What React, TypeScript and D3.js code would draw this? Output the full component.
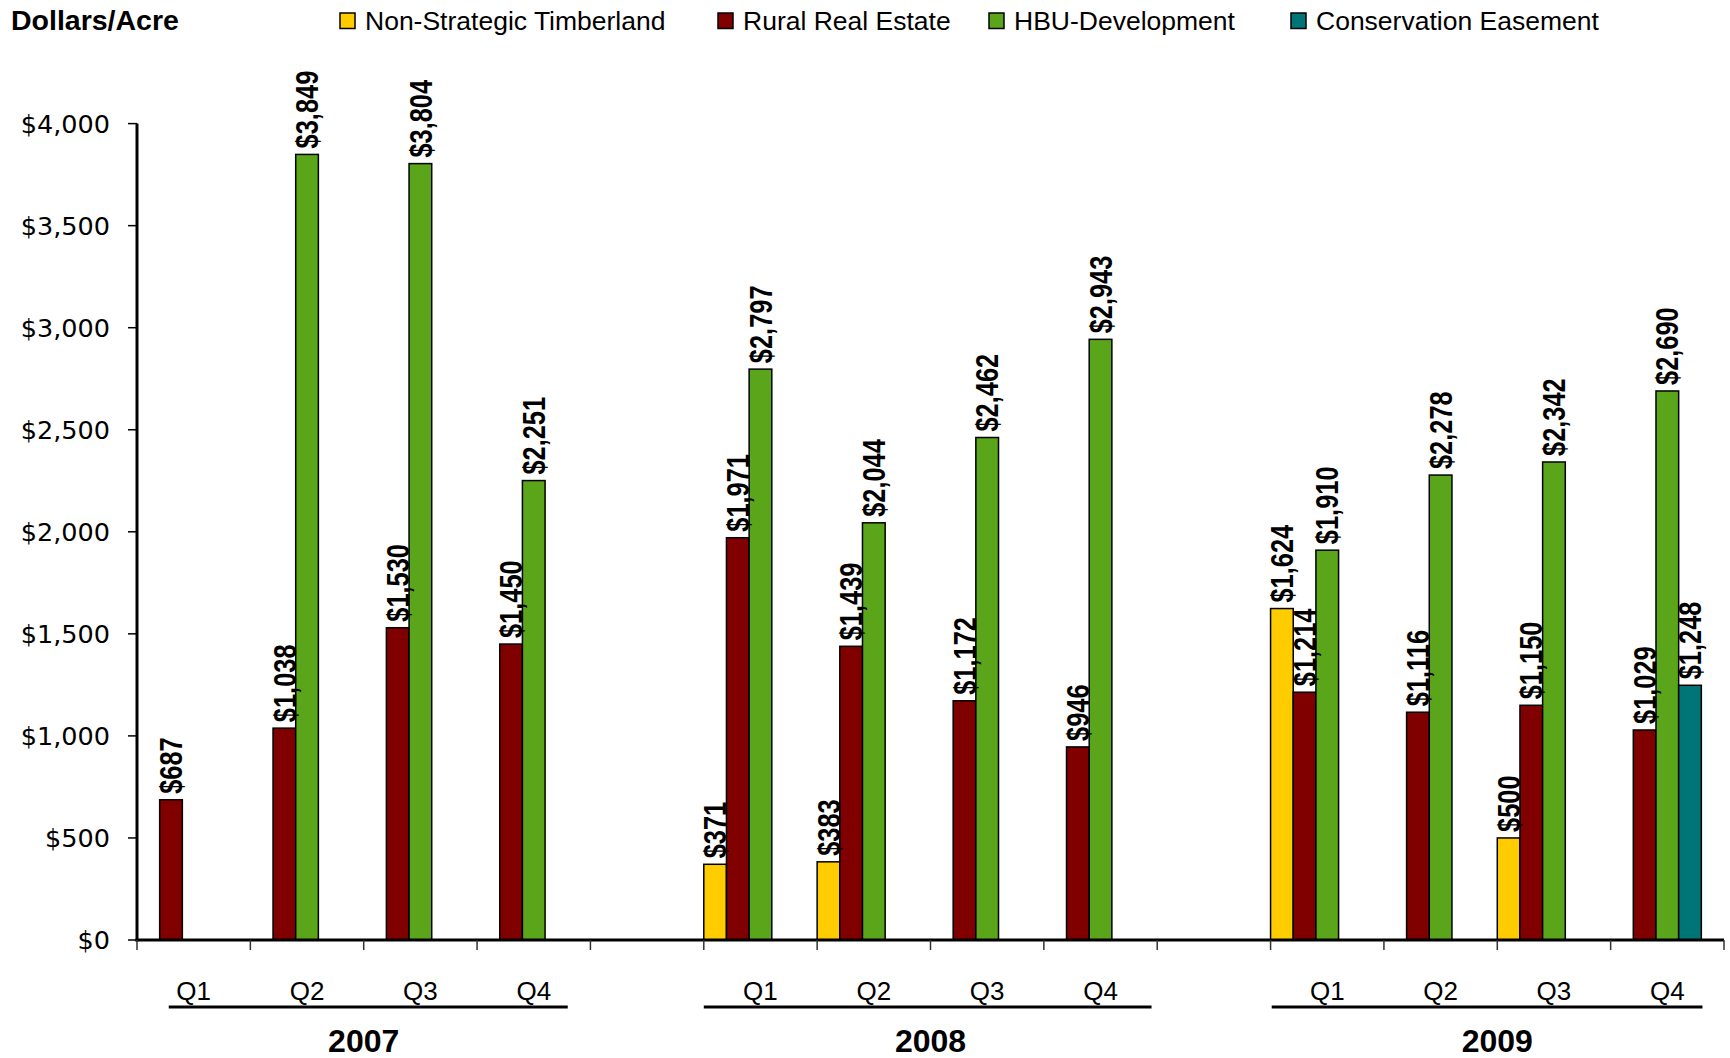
import React from "react";
import * as d3 from "d3";

const categories = [
  "2007-Q1", "2007-Q2", "2007-Q3", "2007-Q4", "gap-1",
  "2008-Q1", "2008-Q2", "2008-Q3", "2008-Q4", "gap-2",
  "2009-Q1", "2009-Q2", "2009-Q3", "2009-Q4",
];
const quarterLabels = ["Q1", "Q2", "Q3", "Q4", "", "Q1", "Q2", "Q3", "Q4", "", "Q1", "Q2", "Q3", "Q4"];
const years = ["2007", "2008", "2009"];
const yearCategories = [
  ["2007-Q1", "2007-Q4"],
  ["2008-Q1", "2008-Q4"],
  ["2009-Q1", "2009-Q4"],
];

const seriesNames = ["Non-Strategic Timberland", "Rural Real Estate", "HBU-Development", "Conservation Easement"];
const seriesColors = ["#FFCC00", "#800000", "#5AA51A", "#007578"];

const timberland = [null, null, null, null, null, 371, 383, null, null, null, 1624, null, 500, null];
const ruralRealEstate = [687, 1038, 1530, 1450, null, 1971, 1439, 1172, 946, null, 1214, 1116, 1150, 1029];
const hbuDevelopment = [null, 3849, 3804, 2251, null, 2797, 2044, 2462, 2943, null, 1910, 2278, 2342, 2690];
const conservationEasement = [null, null, null, null, null, null, null, null, null, null, null, null, null, 1248];

const yTicks = [0, 500, 1000, 1500, 2000, 2500, 3000, 3500, 4000];

const W = 1730;
const H = 1058;
const LEFT = 137;
const RIGHT = 1724;
const BOTTOM = 940;
const TOP = 123.6;

const calibriLike = "'Liberation Sans', Arial, sans-serif";
const tickFont = "'DejaVu Sans', Verdana, sans-serif";

export default function App() {
  const seriesValues = [timberland, ruralRealEstate, hbuDevelopment, conservationEasement];
  const x = d3.scaleBand<string>().domain(categories).range([LEFT, RIGHT]).paddingInner(0).paddingOuter(0);
  const slot = d3
    .scaleBand<string>()
    .domain([...seriesNames, "_spare"])
    .range([0, x.bandwidth()])
    .padding(0);
  const y = d3.scaleLinear().domain([0, 4000]).range([BOTTOM, TOP]);
  const fmt = d3.format("$,");
  const bw = x.bandwidth();

  const lineInsets = [
    [0.28, 0.2],
    [0.0, 0.05],
    [0.01, 0.19],
  ];

  const legendPos = [340, 718, 989, 1291];

  return (
    <svg width={W} height={H} style={{ position: "absolute", left: 0, top: 0, background: "#fff" }}>
      <rect x={0} y={0} width={W} height={H} fill="#fff" />
      {/* title */}
      <text x={11} y={30} fontFamily={calibriLike} fontWeight="bold" fontSize={28.5} fill="#000">
        Dollars/Acre
      </text>
      {/* legend */}
      {seriesNames.map((name, i) => (
        <g key={name}>
          <rect x={legendPos[i]} y={13} width={15} height={15.5} fill={seriesColors[i]} stroke="#000" strokeWidth={1.5} />
          <text x={legendPos[i] + 25} y={30} fontFamily={calibriLike} fontSize={26.5} fill="#000">
            {name}
          </text>
        </g>
      ))}

      {/* bars */}
      {seriesValues.map((vals, si) =>
        vals.map((v, ci) => {
          if (v == null) return null;
          const bx = (x(categories[ci]) as number) + (slot(seriesNames[si]) as number);
          const by = y(v);
          return (
            <rect
              key={`b-${si}-${ci}`}
              x={bx}
              y={by}
              width={slot.bandwidth()}
              height={BOTTOM - by}
              fill={seriesColors[si]}
              stroke="#000"
              strokeWidth={1.5}
            />
          );
        })
      )}

      {/* value labels */}
      {seriesValues.map((vals, si) =>
        vals.map((v, ci) => {
          if (v == null) return null;
          const cx = (x(categories[ci]) as number) + (slot(seriesNames[si]) as number) + slot.bandwidth() / 2;
          const by = y(v) - 6;
          return (
            <text
              key={`l-${si}-${ci}`}
              transform={`translate(${cx},${by}) rotate(-90) scale(0.82,1)`}
              dy="0.36em"
              textAnchor="start"
              fontFamily={calibriLike}
              fontWeight="bold"
              fontSize={31}
              fill="#000"
            >
              {fmt(v)}
            </text>
          );
        })
      )}

      {/* y axis */}
      <line x1={LEFT} x2={LEFT} y1={TOP} y2={BOTTOM + 1.5} stroke="#000" strokeWidth={3} />
      {yTicks.map((t) => (
        <g key={`yt-${t}`}>
          <line x1={LEFT - 9} x2={LEFT} y1={y(t)} y2={y(t)} stroke="#000" strokeWidth={1.5} />
          <text
            x={110}
            y={y(t)}
            dy="0.36em"
            textAnchor="end"
            fontFamily={tickFont}
            fontSize={25.5}
            fill="#000"
          >
            {fmt(t)}
          </text>
        </g>
      ))}

      {/* x axis */}
      <line x1={LEFT - 1.5} x2={RIGHT} y1={BOTTOM} y2={BOTTOM} stroke="#000" strokeWidth={3} />
      {[...categories.map((c) => x(c) as number), RIGHT].map((px, i) => (
        <line key={`xt-${i}`} x1={px} x2={px} y1={BOTTOM} y2={BOTTOM + 10} stroke="#333" strokeWidth={1.5} />
      ))}
      {categories.map((c, i) =>
        quarterLabels[i] ? (
          <text
            key={`q-${c}`}
            x={(x(c) as number) + bw / 2}
            y={1000}
            textAnchor="middle"
            fontFamily={calibriLike}
            fontSize={26}
            fill="#000"
          >
            {quarterLabels[i]}
          </text>
        ) : null
      )}
      {years.map((yr, i) => {
        const start = x(yearCategories[i][0]) as number;
        const end = (x(yearCategories[i][1]) as number) + bw;
        return (
          <g key={`yr-${yr}`}>
            <line
              x1={start + lineInsets[i][0] * bw}
              x2={end - lineInsets[i][1] * bw}
              y1={1007}
              y2={1007}
              stroke="#000"
              strokeWidth={3}
            />
            <text
              x={(start + end) / 2}
              y={1052}
              textAnchor="middle"
              fontFamily={calibriLike}
              fontWeight="bold"
              fontSize={32}
              fill="#000"
            >
              {yr}
            </text>
          </g>
        );
      })}
    </svg>
  );
}
